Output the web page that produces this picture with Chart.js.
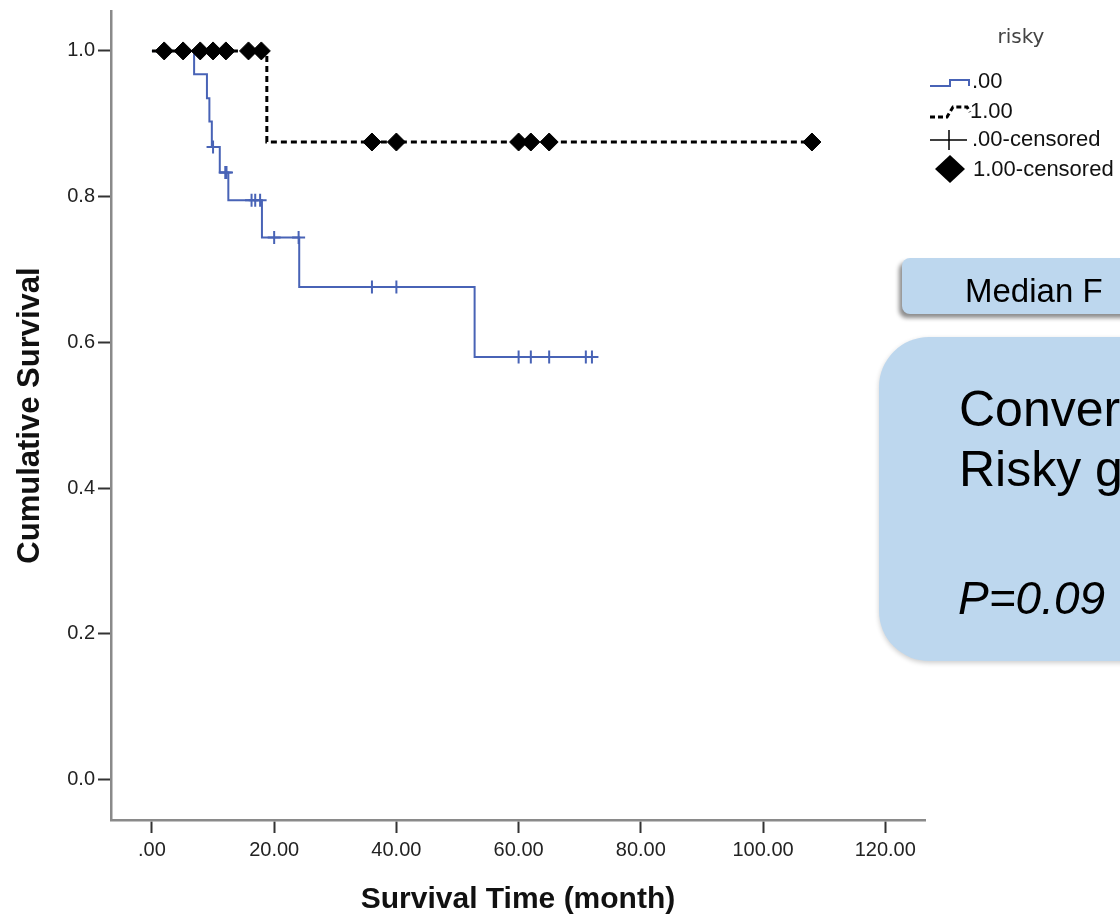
<!DOCTYPE html>
<html>
<head>
<meta charset="utf-8">
<script src="https://cdn.jsdelivr.net/npm/chart.js@4"></script>
<style>
  body { margin: 0; width: 1120px; height: 915px; overflow: hidden; background: #fff; position: relative; font-family: "Liberation Sans", Arial, sans-serif; }
  #wrap { position: absolute; left: 0; top: 0; width: 1120px; height: 915px; }
  .box { position: absolute; background: #bdd7ee; }
  #medianBox { left: 902px; top: 258px; width: 400px; height: 56px; border-radius: 8px; box-shadow: -3px 4px 4px rgba(0,0,0,0.45); }
  #mainBox { left: 879px; top: 337px; width: 500px; height: 324px; border-radius: 50px; box-shadow: 0 2px 5px rgba(0,0,0,0.2); }
  .txt { position: absolute; line-height: 1; white-space: nowrap; color: #000; }
</style>
</head>
<body>
<div id="wrap"><canvas id="kmChart" width="1120" height="915"></canvas></div>
<div class="box" id="medianBox"><span class="txt" style="left:63px; top:16px; font-size:33px;">Median F</span></div>
<div class="box" id="mainBox">
  <span class="txt" style="left:80px; top:47px; font-size:50px;">Conver</span>
  <span class="txt" style="left:80px; top:107px; font-size:50px;">Risky g</span>
  <span class="txt" style="left:79px; top:238px; font-size:46px; font-style:italic;">P=0.09</span>
</div>
<script>
  // risky = .00 (blue step curve)
  const blueTimes = [0, 6.9, 9.0, 9.4, 9.8, 11.1, 12.5, 18.0, 24.1, 52.8, 72.8];
  const blueSurv = [1.0, 0.968, 0.935, 0.903, 0.868, 0.833, 0.795, 0.744, 0.676, 0.580, 0.580];
  const blueCensorTimes = [10.0, 12.0, 12.2, 16.3, 16.9, 17.7, 20.0, 24.0, 36.0, 40.0, 60.0, 62.0, 65.0, 71.0, 72.0];
  const blueCensorSurv = [0.868, 0.833, 0.833, 0.795, 0.795, 0.795, 0.744, 0.744, 0.676, 0.676, 0.580, 0.580, 0.580, 0.580, 0.580];

  // risky = 1.00 (black dashed curve)
  const blackTimes = [0, 18.8, 108.0];
  const blackSurv = [1.0, 0.875, 0.875];
  const blackCensorTimes = [2.0, 5.1, 7.9, 10.0, 12.1, 15.8, 17.9, 36.0, 40.0, 60.0, 62.0, 65.0, 108.0];
  const blackCensorSurv = [1.0, 1.0, 1.0, 1.0, 1.0, 1.0, 1.0, 0.875, 0.875, 0.875, 0.875, 0.875, 0.875];

  const xTickValues = [0, 20, 40, 60, 80, 100, 120];
  const xTickLabels = ['.00', '20.00', '40.00', '60.00', '80.00', '100.00', '120.00'];
  const yTickValues = [0, 0.2, 0.4, 0.6, 0.8, 1.0];
  const yTickLabels = ['0.0', '0.2', '0.4', '0.6', '0.8', '1.0'];

  const legendTitle = 'risky';
  const legendLabels = ['.00', '1.00', '.00-censored', '1.00-censored'];

  const blue = '#4863b6';

  function points(xs, ys) {
    return xs.map((x, i) => ({ x: x, y: ys[i] }));
  }

  const legendPlugin = {
    id: 'kmLegend',
    afterDraw(chart) {
      const ctx = chart.ctx;
      ctx.save();
      ctx.textBaseline = 'middle';
      ctx.fillStyle = '#444';
      ctx.font = '20px "DejaVu Sans"';
      ctx.textAlign = 'center';
      ctx.fillText(legendTitle, 1021, 38);

      // step icons
      ctx.lineWidth = 2;
      ctx.strokeStyle = blue;
      ctx.beginPath();
      ctx.moveTo(930, 86); ctx.lineTo(950, 86); ctx.lineTo(950, 80);
      ctx.lineTo(969, 80); ctx.lineTo(969, 86);
      ctx.stroke();

      ctx.lineWidth = 3;
      ctx.strokeStyle = '#000';
      ctx.setLineDash([5, 3]);
      ctx.beginPath();
      ctx.moveTo(930, 117); ctx.lineTo(947, 117); ctx.lineTo(953, 107);
      ctx.lineTo(967, 107); ctx.lineTo(970, 112);
      ctx.stroke();
      ctx.setLineDash([]);

      ctx.lineWidth = 1.5;
      ctx.beginPath();
      ctx.moveTo(930, 140); ctx.lineTo(967, 140);
      ctx.moveTo(949, 130); ctx.lineTo(949, 150);
      ctx.stroke();

      ctx.fillStyle = '#000';
      ctx.beginPath();
      ctx.moveTo(935, 169); ctx.lineTo(950, 155); ctx.lineTo(965, 169); ctx.lineTo(950, 183);
      ctx.closePath();
      ctx.fill();

      ctx.font = '22px "Liberation Sans"';
      ctx.textAlign = 'left';
      ctx.fillStyle = '#111';
      const ys = [82, 112, 140, 170];
      const xs = [972, 970, 972, 973];
      legendLabels.forEach((t, i) => ctx.fillText(t, xs[i], ys[i]));
      ctx.restore();
    }
  };

  const config = {
    type: 'line',
    data: {
      datasets: [
        {
          label: legendLabels[3],
          data: points(blackCensorTimes, blackCensorSurv),
          showLine: false,
          pointStyle: 'rectRot',
          pointRadius: 9,
          pointBackgroundColor: '#000',
          pointBorderColor: '#000',
          pointBorderWidth: 1,
          order: 0
        },
        {
          label: legendLabels[1],
          data: points(blackTimes, blackSurv),
          stepped: true,
          borderColor: '#000',
          borderWidth: 3,
          borderDash: [6, 4],
          pointRadius: 0,
          fill: false,
          order: 1
        },
        {
          label: legendLabels[2],
          data: points(blueCensorTimes, blueCensorSurv),
          showLine: false,
          pointStyle: 'cross',
          pointRadius: 6.5,
          pointBorderColor: blue,
          pointBorderWidth: 2,
          order: 2
        },
        {
          label: legendLabels[0],
          data: points(blueTimes, blueSurv),
          stepped: true,
          borderColor: blue,
          borderWidth: 2,
          pointRadius: 0,
          fill: false,
          order: 3
        }
      ]
    },
    options: {
      responsive: false,
      animation: false,
      devicePixelRatio: 1,
      layout: { padding: { top: 10, right: 195, left: 0, bottom: 0 } },
      plugins: {
        legend: { display: false },
        tooltip: { enabled: false }
      },
      scales: {
        x: {
          type: 'linear',
          min: -6.7,
          max: 126.5,
          afterFit: (s) => { s.height = 95; },
          afterBuildTicks: (s) => { s.ticks = xTickValues.map(v => ({ value: v })); },
          ticks: {
            autoSkip: false,
            maxRotation: 0,
            padding: 5,
            color: '#222',
            font: { family: 'Liberation Sans', size: 20 },
            callback: (v) => xTickLabels[xTickValues.indexOf(v)]
          },
          grid: { drawOnChartArea: false, drawTicks: true, tickLength: 13, tickColor: '#333', tickWidth: 2 },
          border: { display: true, color: '#8a8a8a', width: 2.5 },
          title: {
            display: true,
            text: 'Survival Time (month)',
            color: '#111',
            font: { family: 'Liberation Sans', size: 30, weight: 'bold' },
            padding: { top: 0, bottom: -3 }
          }
        },
        y: {
          type: 'linear',
          min: -0.0555,
          max: 1.0548,
          afterFit: (s) => { s.width = 111; },
          afterBuildTicks: (s) => { s.ticks = yTickValues.map(v => ({ value: v })); },
          ticks: {
            autoSkip: false,
            padding: 3,
            color: '#222',
            font: { family: 'Liberation Sans', size: 20, lineHeight: 0.8 },
            callback: (v) => yTickLabels[yTickValues.findIndex(t => Math.abs(t - v) < 1e-6)]
          },
          grid: { drawOnChartArea: false, drawTicks: true, tickLength: 13, tickColor: '#333', tickWidth: 2 },
          border: { display: true, color: '#8a8a8a', width: 2.5 },
          title: {
            display: true,
            text: 'Cumulative Survival',
            color: '#111',
            font: { family: 'Liberation Sans', size: 31, weight: 'bold' },
            padding: { top: 12, bottom: 0 }
          }
        }
      }
    },
    plugins: [legendPlugin]
  };

  const kmChart = new Chart(
    document.getElementById('kmChart'),
    config
  );
</script>
</body>
</html>
